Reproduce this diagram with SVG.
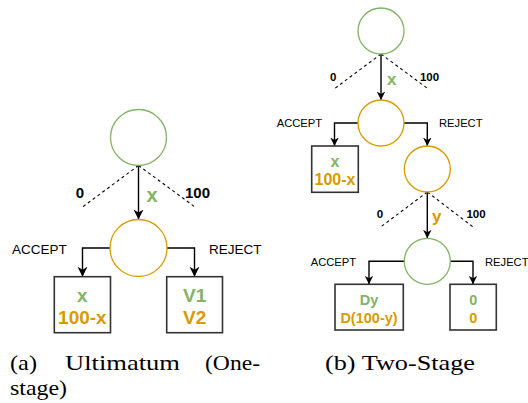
<svg xmlns="http://www.w3.org/2000/svg" width="528" height="403" viewBox="0 0 528 403">
<defs>
<style>
.g{fill:#fff;stroke:#82b366;stroke-width:1.3}
.o{fill:#fff;stroke:#d79b00;stroke-width:1.3}
.box{fill:#fff;stroke:#333;stroke-width:1.6}
.ln{fill:none;stroke:#000;stroke-width:1.4}
.ds{fill:none;stroke:#000;stroke-width:1.1;stroke-dasharray:3 3}
.t{font-family:"Liberation Sans",Arial,sans-serif;fill:#000}
.b{font-weight:bold}
.tg{fill:#82b366}
.to{fill:#d79b00}
.cap{font-family:"Liberation Serif","Times New Roman",serif;font-size:22px;fill:#000}
</style>
<marker id="ah" viewBox="0 0 10 10" refX="10" refY="5" markerWidth="10" markerHeight="10" markerUnits="userSpaceOnUse" orient="auto">
<path d="M0,0 L10,5 L0,10 L3,5 z" fill="#000"/>
</marker>
<marker id="ahs" viewBox="0 0 10 10" refX="10" refY="5" markerWidth="8.5" markerHeight="8.5" markerUnits="userSpaceOnUse" orient="auto">
<path d="M0,0 L10,5 L0,10 L3,5 z" fill="#000"/>
</marker>
</defs>
<rect width="528" height="403" fill="#fff"/>

<g id="connectors">
<path class="ds" d="M138.5,165.5 L82.5,207"/>
<path class="ds" d="M138.5,165.5 L195,207"/>
<path class="ln" d="M138.5,165.5 L138.5,219.5" marker-end="url(#ah)"/>
<path class="ln" d="M110,248 H82.5 V276.7" marker-end="url(#ah)"/>
<path class="ln" d="M167,248 H194.5 V276.7" marker-end="url(#ah)"/>

<path class="ds" d="M381,54 L335,88.3"/>
<path class="ds" d="M381,54 L427.3,88.3"/>
<path class="ln" d="M381,54 L381,100" marker-end="url(#ahs)"/>
<path class="ln" d="M358,123 H334.5 V146" marker-end="url(#ahs)"/>
<path class="ln" d="M404,123 H427.3 V146" marker-end="url(#ahs)"/>
<path class="ds" d="M427.3,192 L381,226.7"/>
<path class="ds" d="M427.3,192 L472.7,226.7"/>
<path class="ln" d="M427.3,192 L427.3,238.3" marker-end="url(#ahs)"/>
<path class="ln" d="M404.3,261.3 H369 V284.3" marker-end="url(#ahs)"/>
<path class="ln" d="M450.3,261.3 H473 V284.3" marker-end="url(#ahs)"/>
</g>

<g id="labels">
<text class="t b" x="80" y="197.7" font-size="15" text-anchor="middle">0</text>
<text class="t b tg" x="152" y="201.7" font-size="20" text-anchor="middle">x</text>
<text class="t b" x="197.5" y="197.7" font-size="15" text-anchor="middle">100</text>
<text class="t" x="12" y="254" font-size="13.5">ACCEPT</text>
<text class="t" x="209" y="254" font-size="13.5">REJECT</text>

<text class="t b" x="333.3" y="80.7" font-size="11.5" text-anchor="middle">0</text>
<text class="t b tg" x="391.7" y="85" font-size="17" text-anchor="middle">x</text>
<text class="t b" x="429.5" y="80.7" font-size="11.5" text-anchor="middle">100</text>
<text class="t" x="276.7" y="127.3" font-size="11.2">ACCEPT</text>
<text class="t" x="439" y="127.3" font-size="11.2">REJECT</text>
<text class="t b" x="380" y="218.3" font-size="11.5" text-anchor="middle">0</text>
<text class="t b to" x="436.7" y="221.7" font-size="17" text-anchor="middle">y</text>
<text class="t b" x="476" y="218.3" font-size="11.5" text-anchor="middle">100</text>
<text class="t" x="310.7" y="266" font-size="11.2">ACCEPT</text>
<text class="t" x="485" y="266" font-size="11.2">REJECT</text>
</g>

<g id="n-root-a"><circle class="g" cx="138.5" cy="137.5" r="28"/></g>
<g id="n-resp-a"><circle class="o" cx="138.5" cy="248" r="28.5"/></g>
<g id="n-accept-a">
<rect class="box" x="54.3" y="276.7" width="56.2" height="56"/>
<text class="t b tg" x="82.4" y="301.7" font-size="19" text-anchor="middle">x</text>
<text class="t b to" x="82.4" y="324" font-size="19" text-anchor="middle">100-x</text>
</g>
<g id="n-reject-a">
<rect class="box" x="166.7" y="276.7" width="55.8" height="56"/>
<text class="t b tg" x="194.6" y="301.7" font-size="19" text-anchor="middle">V1</text>
<text class="t b to" x="194.6" y="324" font-size="19" text-anchor="middle">V2</text>
</g>

<g id="n-root-b"><circle class="g" cx="381" cy="31" r="23"/></g>
<g id="n-resp-b"><circle class="o" cx="381" cy="123" r="23"/></g>
<g id="n-accept-b1">
<rect class="box" x="311.7" y="146" width="46.6" height="46.3"/>
<text class="t b tg" x="335" y="166.7" font-size="16" text-anchor="middle">x</text>
<text class="t b to" x="335" y="185" font-size="16" text-anchor="middle">100-x</text>
</g>
<g id="n-counter-b"><circle class="o" cx="427.3" cy="169" r="23"/></g>
<g id="n-resp2-b"><circle class="g" cx="427.3" cy="261.3" r="23"/></g>
<g id="n-accept-b2">
<rect class="box" x="335" y="284.3" width="68.3" height="45.7"/>
<text class="t b tg" x="369" y="305" font-size="14.5" text-anchor="middle">Dy</text>
<text class="t b to" x="369" y="323" font-size="14.5" text-anchor="middle">D(100-y)</text>
</g>
<g id="n-reject-b2">
<rect class="box" x="450" y="284.3" width="46.3" height="45.7"/>
<text class="t b tg" x="473.2" y="305" font-size="14.5" text-anchor="middle">0</text>
<text class="t b to" x="473.2" y="323" font-size="14.5" text-anchor="middle">0</text>
</g>

<g id="captions">
<text class="cap" x="10" y="370" textLength="27" lengthAdjust="spacingAndGlyphs">(a)</text>
<text class="cap" x="65" y="370" textLength="115" lengthAdjust="spacingAndGlyphs">Ultimatum</text>
<text class="cap" x="205" y="370" textLength="55" lengthAdjust="spacingAndGlyphs">(One-</text>
<text class="cap" x="10" y="395" textLength="57" lengthAdjust="spacingAndGlyphs">stage)</text>
<text class="cap" x="325" y="370" textLength="150" lengthAdjust="spacingAndGlyphs">(b) Two-Stage</text>
</g>
</svg>
